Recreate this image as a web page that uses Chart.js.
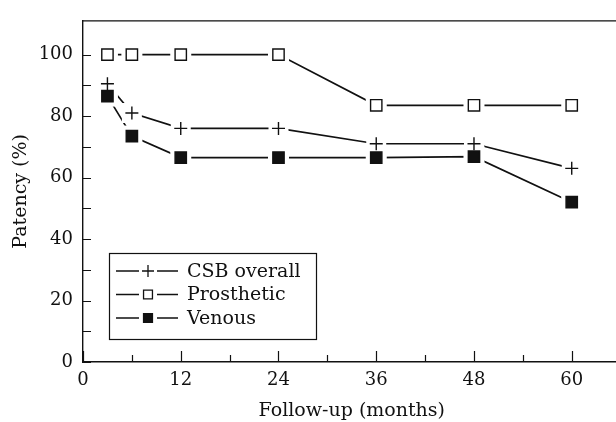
<!DOCTYPE html>
<html>
<head>
<meta charset="utf-8">
<script src="https://cdn.jsdelivr.net/npm/chart.js@4.4.1/dist/chart.umd.min.js"></script>
<style>
  html, body { margin: 0; padding: 0; background: #fff; overflow: hidden; }
  canvas { display: block; }
</style>
</head>
<body>
<canvas id="theChart" width="630" height="422"></canvas>
<script>
// Follow-up months and patency values
const months = [3, 6, 12, 24, 36, 48, 60];
const csbOverall = [90.5, 81, 76, 76, 71, 71, 63];
const prosthetic = [100, 100, 100, 100, 83.5, 83.5, 83.5];
const venous = [86.5, 73.5, 66.5, 66.5, 66.5, 66.8, 52];

const seriesNames = ["CSB overall", "Prosthetic", "Venous"];

// axis ticks
const xMajorTicks = [0, 12, 24, 36, 48, 60];
const xMinorTicks = [6, 18, 30, 42, 54];
const yMajorTicks = [0, 20, 40, 60, 80, 100];
const yMinorTicks = [10, 30, 50, 70, 90];

const ink = "#111";
const serif = "'DejaVu Serif', 'Liberation Serif', serif";

function toPoints(values) {
    return months.map((m, i) => ({ x: m, y: values[i] }));
}

// inward tick marks and the top frame line
const frameTicks = {
    id: "frameTicks",
    beforeDatasetsDraw(chart) {
        const { ctx, chartArea, scales } = chart;
        ctx.save();
        ctx.strokeStyle = ink;
        ctx.lineWidth = 1.2;
        ctx.beginPath();
        ctx.moveTo(chartArea.left, chartArea.top);
        ctx.lineTo(chartArea.right, chartArea.top);
        xMajorTicks.concat(xMinorTicks).forEach((v) => {
            const px = Math.round(scales.x.getPixelForValue(v)) + 0.5;
            const len = xMajorTicks.includes(v) ? 11 : 7;
            ctx.moveTo(px, chartArea.bottom);
            ctx.lineTo(px, chartArea.bottom - len);
        });
        yMajorTicks.concat(yMinorTicks).forEach((v) => {
            const py = Math.round(scales.y.getPixelForValue(v)) + 0.5;
            ctx.moveTo(chartArea.left, py);
            ctx.lineTo(chartArea.left + 8, py);
        });
        ctx.stroke();
        ctx.restore();
    },
};

// the printed lines stop short of each marker: clear a small gap, then redraw the markers
const markerGaps = {
    id: "markerGaps",
    afterDatasetsDraw(chart) {
        const { ctx } = chart;
        ctx.save();
        ctx.fillStyle = "#fff";
        chart.data.datasets.forEach((ds, i) => {
            chart.getDatasetMeta(i).data.forEach((pt) => {
                const r = ds.pointStyle === "cross" ? 10 : 10.5;
                ctx.fillRect(pt.x - r, pt.y - r, 2 * r, 2 * r);
            });
        });
        ctx.restore();
        chart.data.datasets.forEach((ds, i) => {
            chart.getDatasetMeta(i).data.forEach((pt) => pt.draw(ctx, chart.chartArea));
        });
    },
};

// boxed legend in the lower left of the plot
const boxLegend = {
    id: "boxLegend",
    afterDatasetsDraw(chart) {
        const { ctx, chartArea } = chart;
        const left = chartArea.left + 26;
        const top = chartArea.bottom - 109;
        const w = 207, h = 86;
        ctx.save();
        ctx.fillStyle = "#fff";
        ctx.fillRect(left, top, w, h);
        ctx.strokeStyle = ink;
        ctx.lineWidth = 1.2;
        ctx.strokeRect(left + 0.5, top + 0.5, w, h);
        ctx.font = "19px " + serif;
        ctx.textBaseline = "middle";
        chart.data.datasets.forEach((ds, i) => {
            const y = top + 18 + i * 23.5;
            const mx = left + 39;
            ctx.strokeStyle = ink;
            ctx.lineWidth = 1.5;
            ctx.beginPath();
            ctx.moveTo(left + 7, y);
            ctx.lineTo(mx - 9, y);
            ctx.moveTo(mx + 9, y);
            ctx.lineTo(left + 69, y);
            ctx.stroke();
            ctx.fillStyle = ds.pointBackgroundColor;
            ctx.strokeStyle = ink;
            ctx.lineWidth = 1.3;
            Chart.helpers.drawPoint(ctx, {
                pointStyle: ds.pointStyle,
                radius: ds.pointStyle === "cross" ? 6 : 6.3,
                borderWidth: 1.3,
                rotation: 0,
            }, mx, y);
            ctx.fillStyle = ink;
            ctx.fillText(ds.label, left + 78, y + 1);
        });
        ctx.restore();
    },
};

const ctx = document.getElementById("theChart");
new Chart(ctx, {
    type: "line",
    data: {
        datasets: [
            {
                label: seriesNames[0],
                data: toPoints(csbOverall),
                pointStyle: "cross",
                pointRadius: 6.5,
                pointBackgroundColor: ink,
                borderColor: ink,
                pointBorderColor: ink,
            },
            {
                label: seriesNames[1],
                data: toPoints(prosthetic),
                pointStyle: "rect",
                pointRadius: 8,
                pointBackgroundColor: "#fff",
                borderColor: ink,
                pointBorderColor: ink,
            },
            {
                label: seriesNames[2],
                data: toPoints(venous),
                pointStyle: "rect",
                pointRadius: 8,
                pointBackgroundColor: ink,
                borderColor: ink,
                pointBorderColor: ink,
            },
        ],
    },
    options: {
        responsive: false,
        animation: false,
        events: [],
        datasets: {
            line: {
                borderWidth: 1.7,
                pointBorderWidth: 1.4,
                tension: 0,
                fill: false,
            },
        },
        layout: {
            padding: { top: 13, right: 7, bottom: 0, left: 0 },
        },
        scales: {
            x: {
                type: "linear",
                min: 0,
                max: 66,
                afterBuildTicks: (s) => { s.ticks = xMajorTicks.map((v) => ({ value: v })); },
                afterFit: (s) => { s.height = 60; },
                grid: { display: false, drawTicks: false },
                border: { display: true, color: ink, width: 1.4 },
                ticks: {
                    color: ink,
                    padding: 8,
                    maxRotation: 0,
                    font: { family: serif, size: 18 },
                },
                title: {
                    display: true,
                    text: "Follow-up (months)",
                    color: ink,
                    padding: { top: 0, bottom: 0 },
                    font: { family: serif, size: 19 },
                },
            },
            y: {
                min: 0,
                max: 111,
                afterBuildTicks: (s) => { s.ticks = yMajorTicks.map((v) => ({ value: v })); },
                afterFit: (s) => { s.width = 83; },
                grid: { display: false, drawTicks: false },
                border: { display: true, color: ink, width: 1.4 },
                ticks: {
                    color: ink,
                    padding: 10,
                    font: { family: serif, size: 18 },
                },
                title: {
                    display: true,
                    text: "Patency (%)",
                    color: ink,
                    padding: { top: 10, bottom: 0 },
                    font: { family: serif, size: 19 },
                },
            },
        },
        plugins: {
            legend: { display: false },
            tooltip: { enabled: false },
            colors: { enabled: false },
        },
    },
    plugins: [frameTicks, markerGaps, boxLegend],
});
</script>
</body>
</html>
